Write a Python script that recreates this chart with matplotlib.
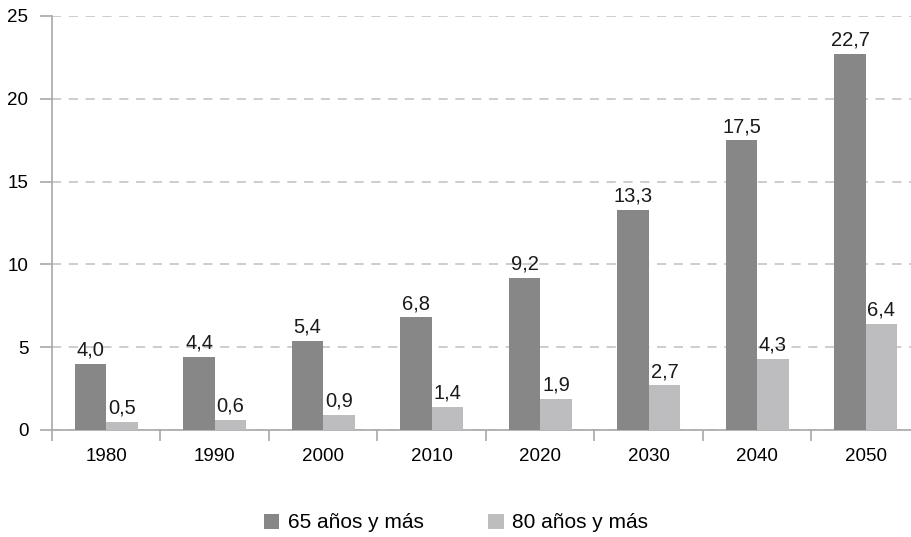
import matplotlib.pyplot as plt
import numpy as np

plt.rcParams['font.family'] = ['Liberation Sans', 'DejaVu Sans']

years = ['1980', '1990', '2000', '2010', '2020', '2030', '2040', '2050']
pop_65 = [4.0, 4.4, 5.4, 6.8, 9.2, 13.3, 17.5, 22.7]
pop_80 = [0.5, 0.6, 0.9, 1.4, 1.9, 2.7, 4.3, 6.4]
series_names = ['65 años y más', '80 años y más']

dark = '#878787'
light = '#bdbdbf'
axis_col = '#a8a8a8'

fig = plt.figure(figsize=(9.12, 5.37), dpi=100)
ax = fig.add_axes([52 / 912, (537 - 430) / 537, 868 / 912, 414 / 537])

x = np.arange(len(years))
w = 0.29
b1 = ax.bar(x - w / 2, pop_65, w, color=dark, label=series_names[0], zorder=3)
b2 = ax.bar(x + w / 2, pop_80, w, color=light, label=series_names[1], zorder=3)

for bars in (b1, b2):
    labels = [f'{b.get_height():.1f}'.replace('.', ',') for b in bars]
    ax.bar_label(bars, labels=labels, padding=3, fontsize=14.5, color='#1a1a1a')

ax.set_xlim(-0.5, len(years) - 0.5)
ax.set_ylim(0, 25)
ax.set_yticks([0, 5, 10, 15, 20, 25])
ax.yaxis.grid(True, linestyle=(0, (6, 5)), color='#c0c0c0', linewidth=1.1, zorder=0)

ax.set_xticks(x)
ax.set_xticklabels(years, fontsize=13.5)
ax.set_xticks(np.arange(len(years) + 1) - 0.5, minor=True)
ax.tick_params(axis='x', which='major', length=0, pad=13)
ax.tick_params(axis='x', which='minor', length=8, color=axis_col, width=1.2)
ax.tick_params(axis='y', length=9, color=axis_col, width=1.2, labelsize=13.5, pad=8)

for s in ('top', 'right'):
    ax.spines[s].set_visible(False)
for s in ('left', 'bottom'):
    ax.spines[s].set_color(axis_col)
    ax.spines[s].set_linewidth(1.2)

fig.legend(handles=[b1, b2], loc='center', bbox_to_anchor=(456 / 912, 1 - 523 / 537),
           ncol=2, frameon=False, fontsize=15, handlelength=0.75, handleheight=0.75,
           columnspacing=3.1, handletextpad=0.4)

fig.savefig('out.png', dpi=100)
